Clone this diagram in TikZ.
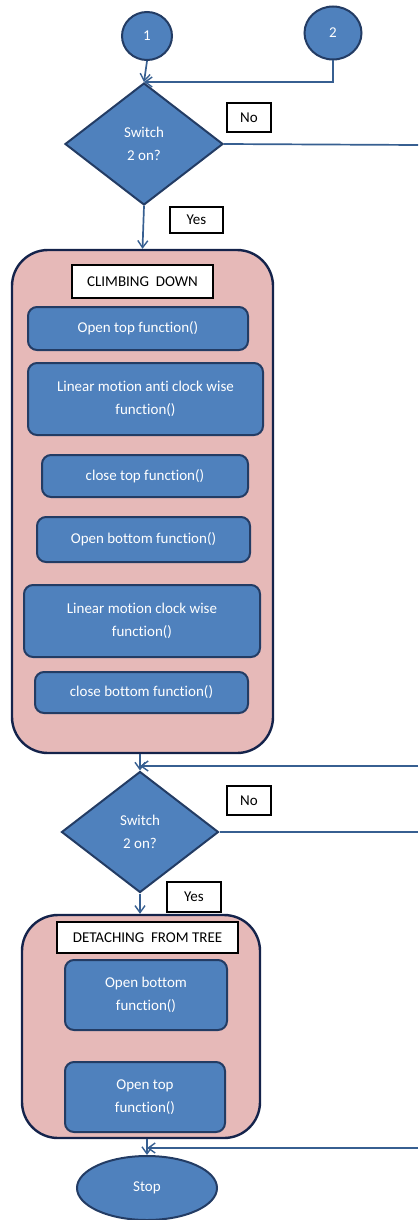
\documentclass[tikz,border=0pt]{standalone}
\usepackage{fontspec}
\setmainfont{Carlito}[Ligatures=NoCommon]
\usetikzlibrary{shapes.geometric,arrows.meta}
\definecolor{boxblue}{RGB}{79,129,189}
\definecolor{boxedge}{RGB}{35,60,100}
\definecolor{panelpink}{RGB}{230,185,184}
\definecolor{paneledge}{RGB}{20,35,75}
\definecolor{wire}{RGB}{55,95,145}
\begin{document}
\begin{tikzpicture}[x=1pt,y=-1pt,
  txt/.style={font=\fontsize{15}{23}\selectfont, align=center, inner sep=0pt},
  func/.style={txt, draw=boxedge, line width=2pt, fill=boxblue, text=white, rounded corners=9pt},
  panel/.style={draw=paneledge, line width=2.4pt, fill=panelpink, rounded corners=36pt, inner sep=0pt},
  caption/.style={txt, draw=black, line width=1.3pt, fill=white},
  tag/.style={txt, draw=black, line width=1.3pt, fill=white},
  decision/.style={txt, diamond, draw=boxedge, line width=2pt, fill=boxblue, text=white},
  terminal/.style={txt, ellipse, draw=boxedge, line width=2pt, fill=boxblue, text=white},
  wireline/.style={draw=wire, line width=1.7pt},
  flow/.style={wireline, -{Straight Barb[length=7pt,width=10pt,line width=1.4pt]}}
]
\useasboundingbox (0,0) rectangle (418,1220);

% entry connectors
\node[terminal, minimum width=50, minimum height=48] (c1) at (147,36) {1};
\node[terminal, minimum width=57, minimum height=53] (c2) at (333,33) {2};

% first decision
\node[decision, minimum width=158, minimum height=122] (d1) at (144,144) {Switch\\2 on?};
\node[tag, minimum width=44, minimum height=29] (no1) at (249,117.5) {No};
\node[tag, minimum width=53, minimum height=26] (yes1) at (196.5,220) {Yes};

% climbing down block
\node[panel, minimum width=261, minimum height=503] (p1) at (142.5,501.5) {};
\node[caption, minimum width=141, minimum height=33] (t1) at (142.5,281.5) {CLIMBING\ \ DOWN};
\node[func, minimum width=220, minimum height=43] (f1) at (138,328.5) {Open top function()};
\node[func, minimum width=235, minimum height=72] (f2) at (145.5,399) {Linear motion anti clock wise\\function()};
\node[func, minimum width=206, minimum height=42] (f3) at (145,476) {close top function()};
\node[func, minimum width=213, minimum height=45] (f4) at (143.5,539.5) {Open bottom function()};
\node[func, minimum width=236, minimum height=72] (f5) at (142,621) {Linear motion clock wise\\function()};
\node[func, minimum width=213, minimum height=41] (f6) at (141.5,692.5) {close bottom function()};

% second decision
\node[decision, minimum width=157, minimum height=121] (d2) at (140,832) {Switch\\2 on?};
\node[tag, minimum width=44, minimum height=29] (no2) at (249,800.5) {No};
\node[tag, minimum width=54, minimum height=30] (yes2) at (194,897) {Yes};

% detaching block
\node[panel, minimum width=238, minimum height=223] (p2) at (141,1026.5) {};
\node[caption, minimum width=181, minimum height=31] (t2) at (147.5,937.5) {DETACHING\ \ FROM TREE};
\node[func, minimum width=162, minimum height=70] (f7) at (146,995) {Open bottom\\function()};
\node[func, minimum width=160, minimum height=70] (f8) at (145,1097) {Open top\\function()};

% end
\node[terminal, minimum width=140, minimum height=64] (stop) at (147,1188) {Stop};

% loose ends running off to the right
\coordinate (out1) at (418,145);
\coordinate (back1) at (418,766);
\coordinate (out2) at (418,832);
\coordinate (back2) at (418,1148);

% connectors
\draw[flow] (c1.south) -- (d1.north);
\draw[flow] (c2.south) |- (d1.north);
\draw[wireline] (d1.east) -- (out1);
\draw[flow] (d1.south) -- (p1.north);
\draw[flow] (p1.south -| d2.north) -- (d2.north);
\draw[flow] (back1) -- (back1 -| d2.north);
\draw[wireline] (d2.east) -- (out2);
\draw[flow] (d2.south) -- (d2.south |- p2.north);
\draw[flow] (p2.south -| stop.north) -- (stop.north);
\draw[flow] (back2) -- (back2 -| stop.north);
\end{tikzpicture}
\end{document}
